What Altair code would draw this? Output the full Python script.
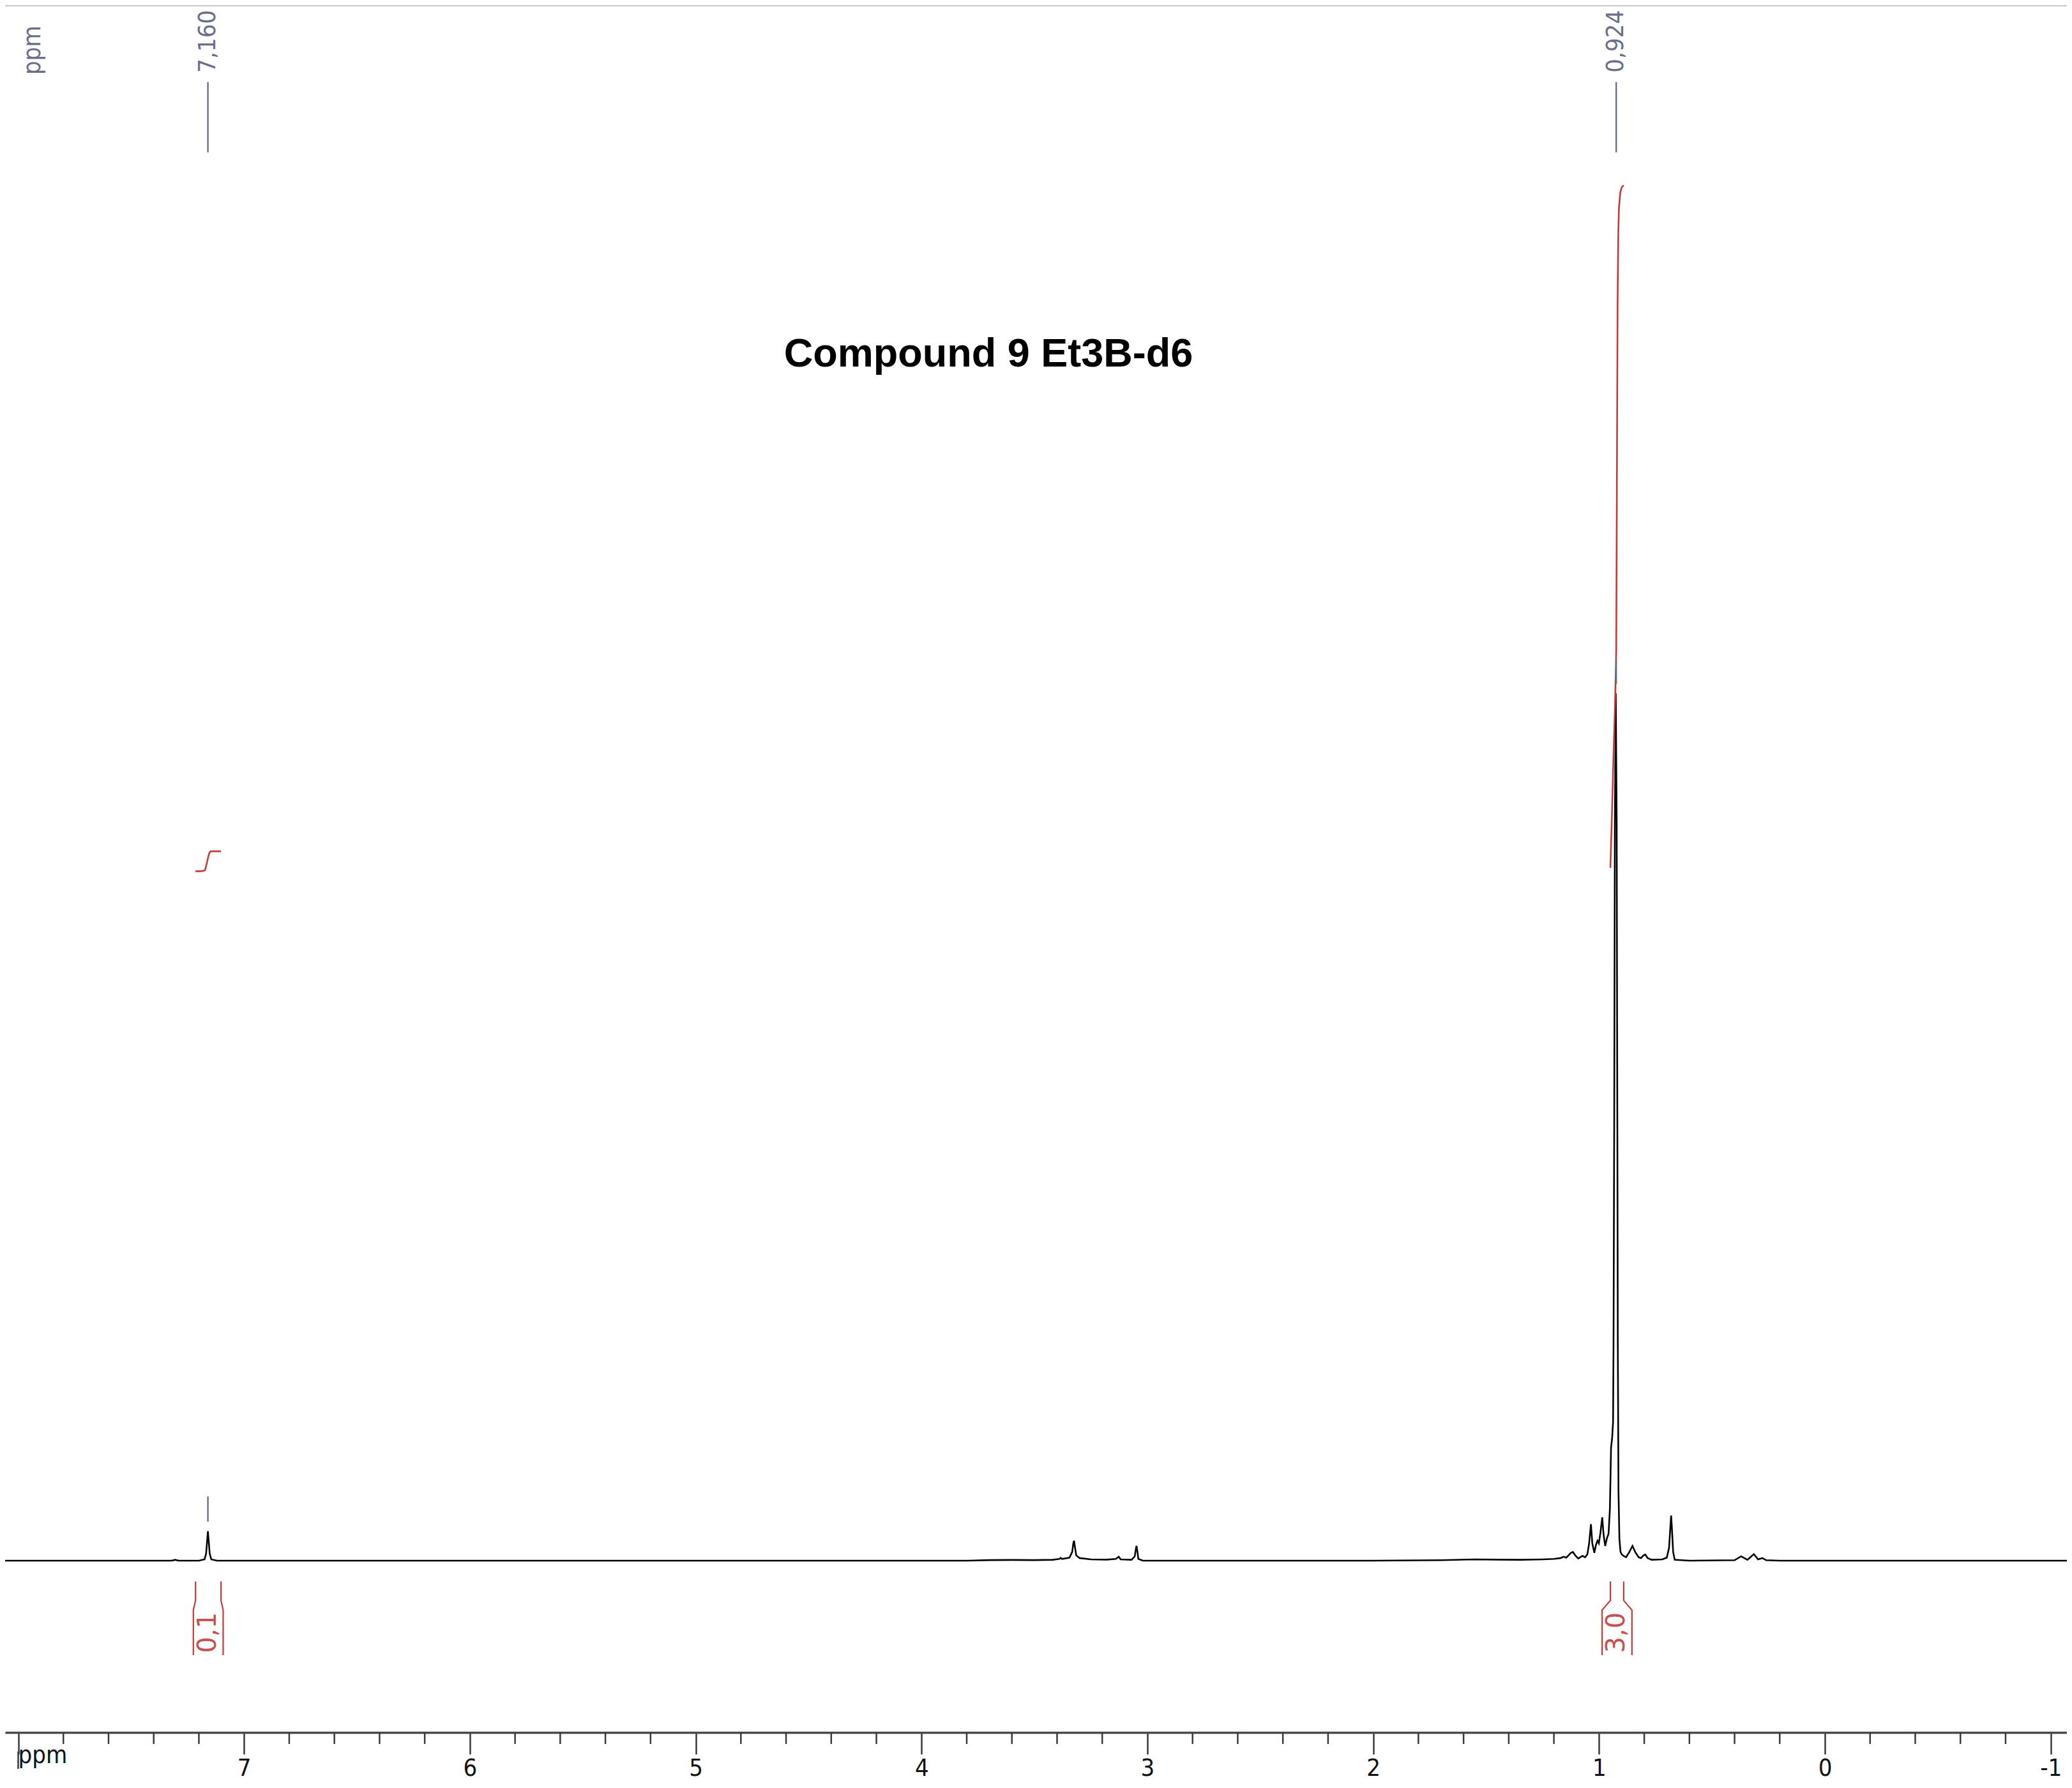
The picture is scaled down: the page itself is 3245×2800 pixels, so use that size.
import altair as alt
import pandas as pd

# ---------------- data ----------------
TITLE = "Compound 9 Et3B-d6"
AXIS_UNIT = "ppm"

SPEC_PPM = [
    8.10, 7.32, 7.305, 7.29,
    7.20, 7.175, 7.168, 7.163, 7.160, 7.157, 7.152, 7.145, 7.12,
    3.80, 3.70, 3.60, 3.50, 3.42, 3.390, 3.384, 3.378, 3.345, 3.333, 3.328, 3.325,
    3.321, 3.315, 3.30, 3.25, 3.18, 3.14, 3.127, 3.118, 3.07, 3.056, 3.050, 3.048,
    3.045, 3.040, 3.02,
    2.00, 1.70, 1.55, 1.45, 1.35, 1.25, 1.20, 1.17, 1.158, 1.145, 1.125, 1.116,
    1.105, 1.092, 1.080, 1.073, 1.062, 1.052, 1.044, 1.036, 1.030, 1.021, 1.014,
    1.007, 1.001, 0.994, 0.986, 0.980, 0.973, 0.965, 0.958, 0.952, 0.947, 0.942,
    0.938, 0.936, 0.933, 0.930, 0.926, 0.922, 0.919, 0.917, 0.914, 0.910, 0.905,
    0.899, 0.889, 0.880, 0.866, 0.852, 0.840, 0.825, 0.814, 0.804, 0.795, 0.785,
    0.767, 0.720, 0.700, 0.690, 0.684, 0.681, 0.678, 0.672, 0.665, 0.600,
    0.400, 0.371, 0.343, 0.315, 0.296, 0.277, 0.260, 0.200, -1.20,
]
SPEC_INT = [
    0.0, 0.0, 0.1, 0.0,
    0.0, 0.15, 0.8, 2.4, 3.4, 2.4, 0.8, 0.15, 0.0,
    0.0, 0.06, 0.08, 0.06, 0.1, 0.2, 0.32, 0.2, 0.35, 1.0, 2.0, 2.3,
    1.6, 0.6, 0.3, 0.15, 0.12, 0.2, 0.45, 0.15, 0.1, 0.5, 1.5, 1.7,
    1.2, 0.2, 0.0,
    0.0, 0.05, 0.15, 0.12, 0.1, 0.15, 0.2, 0.3, 0.45, 0.35, 0.9, 1.0,
    0.6, 0.25, 0.45, 0.55, 0.4, 0.7, 2.0, 4.2, 2.0, 0.9, 1.8,
    2.3, 2.0, 3.2, 5.0, 3.0, 1.7, 2.6, 3.1, 6.0, 13.0, 14.2,
    16.0, 25.0, 50.0, 85.0, 100.0, 85.0, 50.0, 25.0, 8.0, 2.5, 1.0,
    0.7, 0.5, 0.4, 1.0, 1.7, 1.0, 0.4, 0.3, 0.6, 0.7, 0.3,
    0.1, 0.15, 0.35, 1.5, 4.0, 5.2, 4.0, 1.0, 0.1, 0.0,
    0.05, 0.5, 0.1, 0.75, 0.15, 0.3, 0.05, 0.0, 0.0,
]

# integral curves (ppm, integral height in the same units as the spectrum)
INT_A_PPM = [7.215, 7.190, 7.173, 7.166, 7.160, 7.154, 7.148, 7.102]
INT_A_VAL = [79.5, 79.5, 79.6, 80.3, 81.0, 81.6, 81.8, 81.8]
INT_B_PPM = [0.950, 0.943, 0.936, 0.929, 0.924, 0.921, 0.918, 0.915, 0.912, 0.906, 0.899, 0.891]
INT_B_VAL = [79.9, 86.0, 93.0, 99.0, 105.0, 125.0, 145.0, 153.0, 156.0, 157.8, 158.4, 158.6]
INTEGRAL_LABELS = ["0,1", "3,0"]

PEAK_PPM = [7.160, 0.924]
PEAK_LABELS = ["7,160", "0,924"]

MAJOR_TICKS = [8, 7, 6, 5, 4, 3, 2, 1, 0, -1]
MINOR_TICKS = [round(8 - 0.2 * i, 1) for i in range(46) if i % 5 != 0]

# ---------------- layout / style ----------------
W, H, PB = 3229, 2705, 79
X_DOMAIN = [-1.0715, 8.058]
Y_DOMAIN = [-19.81, 179.38]
FONT_AX = "DejaVu Sans Condensed, Liberation Sans Narrow, DejaVu Sans"
FONT_LBL = "DejaVu Sans"
SLATE = "#6a6e8c"
RED = "#c43a3a"
RED_TXT = "#c85050"

xs = alt.Scale(domain=X_DOMAIN, reverse=True, nice=False, zero=False)
ys = alt.Scale(domain=Y_DOMAIN, nice=False, zero=False)

axis_major = alt.Axis(
    values=MAJOR_TICKS, orient="bottom", title=None, grid=False,
    domain=True, domainColor="#4a4a4a", domainWidth=3.5,
    ticks=True, tickSize=34, tickWidth=2.5, tickColor="#3a3a3a",
    labelFont=FONT_AX, labelFontSize=38, labelColor="#111111",
    labelBaseline="alphabetic", labelPadding=33,
    labelExpr="datum.value == 8 ? '' : toString(datum.value)",
    labelFlush=False, labelOverlap=False,
)


def X(field):
    return alt.X(field, scale=xs, axis=axis_major)


def Y(field):
    return alt.Y(field, scale=ys, axis=None)


spec = pd.DataFrame({"ppm": SPEC_PPM, "i": SPEC_INT})

curves = [(INT_A_PPM, INT_A_VAL), (INT_B_PPM, INT_B_VAL)]
int_rows = []
for g, (pp, vv) in enumerate(curves):
    for p, v in zip(pp, vv):
        int_rows.append({"g": g, "ppm": p, "v": v})
integ = pd.DataFrame(int_rows)

# integral brackets below the baseline, derived from the integral ranges
B_TOP, B_BEND, B_ELBOW, B_BOT = -2.4, -4.6, -5.7, -10.9
HALF_OUT = 0.066
br_rows, lab_rows = [], []
for g, ((pp, _), lab) in enumerate(zip(curves, INTEGRAL_LABELS)):
    hi, lo = max(pp), min(pp)
    c = (hi + lo) / 2
    for side, inner, outer in (("L", hi, c + HALF_OUT), ("R", lo, c - HALF_OUT)):
        pts = [(outer, B_BOT), (outer, B_ELBOW), (inner, B_BEND), (inner, B_TOP)]
        for k, (px, py) in enumerate(pts):
            br_rows.append({"id": f"{g}{side}", "k": k, "ppm": px, "v": py})
    lab_rows.append({"ppm": c, "v": (B_ELBOW + B_BOT) / 2, "t": lab})
brk = pd.DataFrame(br_rows)
brk_lab = pd.DataFrame(lab_rows)

# peak picking markers
pk_rows = []
for p, lab in zip(PEAK_PPM, PEAK_LABELS):
    mx = max(i for q, i in zip(SPEC_PPM, SPEC_INT) if abs(q - p) < 0.01)
    pk_rows.append({"ppm": p, "m1": mx + 1.1, "m2": mx + 4.0,
                    "u1": 162.4, "u2": 170.5, "ut": 171.6, "t": lab})
pk = pd.DataFrame(pk_rows)

minor = pd.DataFrame({"ppm": MINOR_TICKS})
unit_df = pd.DataFrame({"ppm": [MAJOR_TICKS[0]], "t": [AXIS_UNIT]})

# ---------------- layers ----------------
top_bar = alt.Chart(pd.DataFrame({"a": [0]})).mark_rule(color="#c8c8c8", strokeWidth=4).encode(
    x=alt.value(0), x2=alt.value(W), y=alt.value(0))

spec_line = alt.Chart(spec).mark_line(color="#000000", strokeWidth=2.6, clip=True).encode(
    x=X("ppm:Q"), y=Y("i:Q"))

integ_line = alt.Chart(integ).mark_line(color=RED, strokeWidth=2.6).encode(
    x=X("ppm:Q"), y=Y("v:Q"), detail="g:N", order="ppm:Q")

brk_line = alt.Chart(brk).mark_line(color=RED, strokeWidth=2.2).encode(
    x=X("ppm:Q"), y=Y("v:Q"), detail="id:N", order="k:Q")

brk_text = alt.Chart(brk_lab).mark_text(
    color=RED_TXT, font=FONT_LBL, fontSize=40, angle=270, align="center", baseline="middle"
).encode(x=X("ppm:Q"), y=Y("v:Q"), text="t:N")

pk_mark = alt.Chart(pk).mark_rule(color=SLATE, strokeWidth=2.4).encode(
    x=X("ppm:Q"), y=Y("m1:Q"), y2="m2:Q")

pk_top = alt.Chart(pk).mark_rule(color=SLATE, strokeWidth=2.4).encode(
    x=X("ppm:Q"), y=Y("u1:Q"), y2="u2:Q")

pk_text = alt.Chart(pk).mark_text(
    color=SLATE, font=FONT_AX, fontSize=38, angle=270, align="left", baseline="middle"
).encode(x=X("ppm:Q"), y=Y("ut:Q"), text="t:N")

minor_ticks = alt.Chart(minor).mark_rule(color="#3a3a3a", strokeWidth=2.5).encode(
    x=X("ppm:Q"), y=alt.value(H), y2=alt.value(H + 18))

unit_tick = alt.Chart(unit_df).mark_rule(color="#3a3a3a", strokeWidth=2.5).encode(
    x=X("ppm:Q"), y=alt.value(H + 30), y2=alt.value(H + 57))

unit_text = alt.Chart(unit_df).mark_text(
    color="#111111", font=FONT_AX, fontSize=38, align="left", baseline="alphabetic", dx=0
).encode(x=X("ppm:Q"), y=alt.value(H + 48), text="t:N")

top_unit = alt.Chart(pd.DataFrame({"t": [AXIS_UNIT]})).mark_text(
    color=SLATE, font=FONT_AX, fontSize=38, angle=270, align="left", baseline="middle"
).encode(x=alt.value(44), y=alt.value(109), text="t:N")

title = alt.Chart(pd.DataFrame({"t": [TITLE]})).mark_text(
    color="#000000", font="Liberation Sans", fontWeight="bold", fontSize=63,
    align="center", baseline="middle"
).encode(x=alt.value(1540), y=alt.value(547), text="t:N")

chart = alt.layer(
    top_bar, spec_line, integ_line, brk_line, brk_text, pk_mark, pk_top, pk_text,
    minor_ticks, unit_tick, unit_text, top_unit, title
).properties(
    width=W, height=H,
    padding={"left": 0, "top": 0, "right": 0, "bottom": PB},
    autosize=alt.AutoSizeParams(type="none"),
    background="#ffffff",
).configure_view(strokeWidth=0)

chart.save("out.html", embed_options={"renderer": "svg", "actions": False})
